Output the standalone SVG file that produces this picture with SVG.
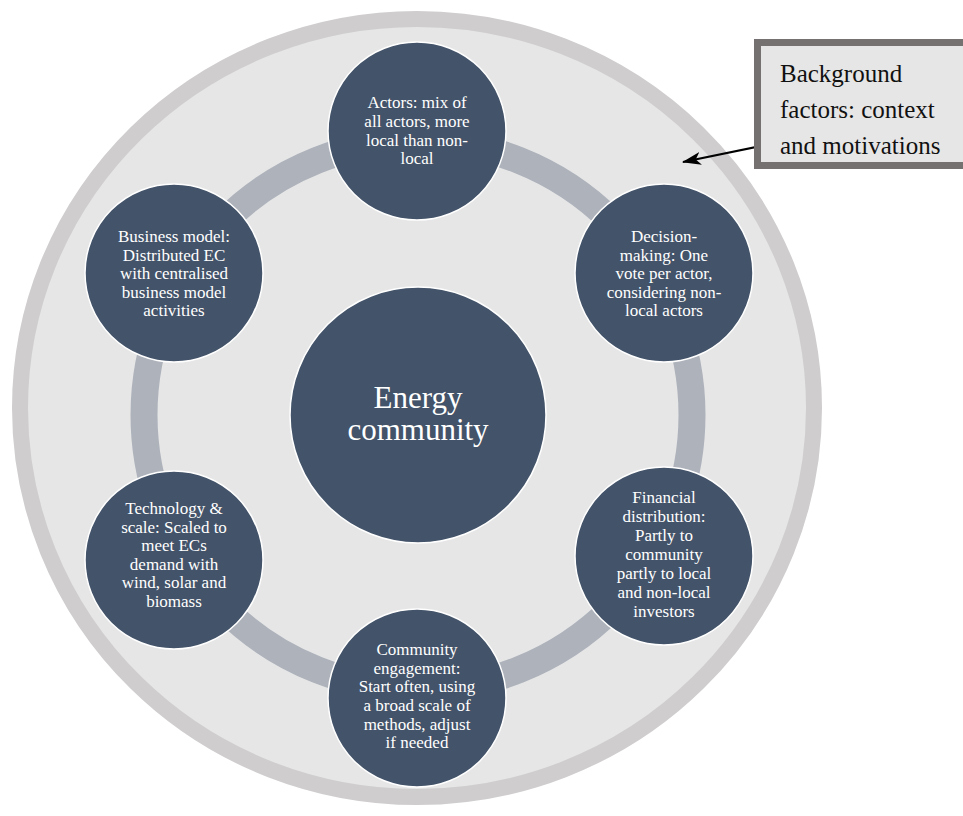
<svg xmlns="http://www.w3.org/2000/svg" width="963" height="816" viewBox="0 0 963 816">
<style>
.node{fill:#435369;stroke:#ffffff;stroke-width:1.5}
.nt{font-family:"Liberation Serif",serif;font-size:17px;fill:#ffffff;text-anchor:middle}
.bt{font-family:"Liberation Serif",serif;font-size:25px;fill:#111111}
</style>
<defs>
<marker id="ah" markerWidth="19" markerHeight="13" refX="18" refY="6.5" orient="auto" markerUnits="userSpaceOnUse">
<path d="M0,0 L19,6.5 L0,13 L5,6.5 Z" fill="#000000"/>
</marker>
</defs>
<rect width="963" height="816" fill="#ffffff"/>
<g id="background">
<ellipse cx="417" cy="408" rx="397" ry="389" fill="#e6e6e6" stroke="#cfcdce" stroke-width="16"/>
<circle cx="418" cy="415" r="274" fill="none" stroke="#adb2bb" stroke-width="27"/>
</g>
<g id="connectors">
<line x1="781" y1="142" x2="683" y2="162" stroke="#000000" stroke-width="2.2" marker-end="url(#ah)"/>
</g>
<g id="center">
<circle class="node" cx="418" cy="415" r="128"/>
<text font-family="Liberation Serif, serif" font-size="31" fill="#ffffff" text-anchor="middle"><tspan x="418" y="408">Energy</tspan><tspan x="418" y="440">community</tspan></text>
</g>
<g id="actors">
<circle class="node" cx="417" cy="131" r="89"/>
<text class="nt"><tspan x="417" y="108">Actors: mix of</tspan><tspan x="417" y="127">all actors, more</tspan><tspan x="417" y="145.5">local than non-</tspan><tspan x="417" y="164">local</tspan></text>
</g>
<g id="decision">
<circle class="node" cx="664" cy="273" r="89"/>
<text class="nt"><tspan x="664" y="242">Decision-</tspan><tspan x="664" y="260.5">making: One</tspan><tspan x="664" y="279">vote per actor,</tspan><tspan x="664" y="297.5">considering non-</tspan><tspan x="664" y="316">local actors</tspan></text>
</g>
<g id="financial">
<circle class="node" cx="664" cy="556" r="89"/>
<text class="nt"><tspan x="664" y="503">Financial</tspan><tspan x="664" y="522">distribution:</tspan><tspan x="664" y="541">Partly to</tspan><tspan x="664" y="560">community</tspan><tspan x="664" y="579">partly to local</tspan><tspan x="664" y="598">and non-local</tspan><tspan x="664" y="617">investors</tspan></text>
</g>
<g id="engagement">
<circle class="node" cx="417" cy="698" r="89"/>
<text class="nt"><tspan x="417" y="655">Community</tspan><tspan x="417" y="673.5">engagement:</tspan><tspan x="417" y="692">Start often, using</tspan><tspan x="417" y="710.5">a broad scale of</tspan><tspan x="417" y="729.5">methods, adjust</tspan><tspan x="417" y="748">if needed</tspan></text>
</g>
<g id="technology">
<circle class="node" cx="174" cy="560" r="89"/>
<text class="nt"><tspan x="174" y="514">Technology &amp;</tspan><tspan x="174" y="532.5">scale: Scaled to</tspan><tspan x="174" y="551">meet ECs</tspan><tspan x="174" y="569.5">demand with</tspan><tspan x="174" y="588">wind, solar and</tspan><tspan x="174" y="607">biomass</tspan></text>
</g>
<g id="business">
<circle class="node" cx="174" cy="273" r="89"/>
<text class="nt"><tspan x="174" y="242">Business model:</tspan><tspan x="174" y="260.5">Distributed EC</tspan><tspan x="174" y="279">with centralised</tspan><tspan x="174" y="297.5">business model</tspan><tspan x="174" y="316">activities</tspan></text>
</g>
<g id="background-factors">
<rect x="757.5" y="42.5" width="215" height="123" fill="#e7e6e6" stroke="#767171" stroke-width="7"/>
<text class="bt"><tspan x="780" y="82">Background</tspan><tspan x="780" y="118">factors: context</tspan><tspan x="780" y="154">and motivations</tspan></text>
</g>
</svg>
